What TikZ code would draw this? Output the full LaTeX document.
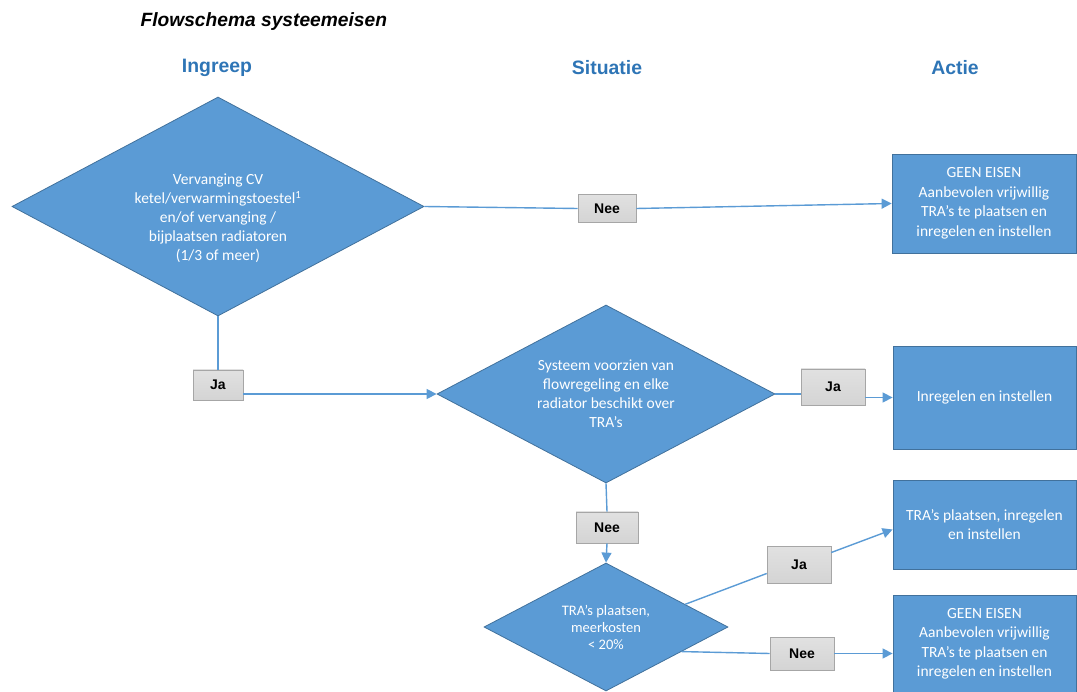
\documentclass[tikz,border=0pt]{standalone}
\usepackage{fontspec}
\setmainfont{Carlito}
\newfontfamily\arialfont{Liberation Sans}
\usepackage{xcolor}
\usepackage{tikz}
\usetikzlibrary{shapes.geometric, arrows.meta, positioning, calc}
\definecolor{vlakblauw}{HTML}{5B9BD5}
\definecolor{randblauw}{HTML}{41719C}
\definecolor{kopblauw}{HTML}{2E75B6}
\definecolor{knopgrijs}{HTML}{D4D4D4}
\definecolor{knoprand}{HTML}{A6A6A6}

\begin{document}
\begin{tikzpicture}[
    x=1pt, y=-1pt,
    vraag/.style={diamond, draw=randblauw, line width=0.8pt, fill=vlakblauw, text=white, inner sep=0pt, shape aspect=1.9, align=center, font=\fontsize{15.5}{19}\selectfont},
    actie/.style={rectangle, draw=randblauw, line width=0.8pt, fill=vlakblauw, text=white, inner sep=0pt, align=center, font=\fontsize{15.5}{19.5}\selectfont},
    knop/.style={rectangle, draw=knoprand, line width=0.6pt, top color=knopgrijs!70!white, bottom color=knopgrijs, inner sep=0pt, font=\arialfont\bfseries\fontsize{14}{16}\selectfont},
    kop/.style={text=kopblauw, font=\arialfont\bfseries\fontsize{19.4}{22}\selectfont},
    lijn/.style={draw=vlakblauw, line width=1.4pt},
    pijl/.style={lijn, -{Triangle[length=10pt, width=10pt]}},
]
    \useasboundingbox (0,0) rectangle (1077,692);

    % Titels
    \node[anchor=west, font=\arialfont\bfseries\itshape\fontsize{19.2}{22}\selectfont] (titel) at (137,22) {Flowschema systeemeisen};
    \node[kop] (kopIngreep) at (217,68) {Ingreep};
    \node[kop] (kopSituatie) at (607,68) {Situatie};
    \node[kop] (kopActie) at (955,68) {Actie};

    % Vragen
    \node[vraag, minimum width=412pt, minimum height=219pt] (ingreep) at (218,206.5)
        {\rule{0pt}{34pt}Vervanging CV\\ketel/verwarmingstoestel\textsuperscript{1}\\en/of vervanging /\\bijplaatsen radiatoren\\(1/3 of meer)};
    \node[vraag, minimum width=338pt, minimum height=178pt] (systeem) at (606,394)
        {Systeem voorzien van\\flowregeling en elke\\radiator beschikt over\\TRA’s};
    \node[vraag, minimum width=244pt, minimum height=128pt, font=\fontsize{14.5}{17}\selectfont] (meerkosten) at (606,627)
        {TRA’s plaatsen,\\meerkosten\\< 20\%};

    % Acties
    \node[actie, minimum width=184pt, minimum height=99pt] (geenEisen1) at (984,203.5)
        {GEEN EISEN\\Aanbevolen vrijwillig\\TRA’s te plaatsen en\\inregelen en instellen};
    \node[actie, minimum width=183pt, minimum height=103pt] (inregelen) at (984.5,397.5)
        {Inregelen en instellen};
    \node[actie, minimum width=183pt, minimum height=89pt] (plaatsen) at (984.5,524.5)
        {TRA’s plaatsen, inregelen\\en instellen};
    \node[actie, minimum width=183pt, minimum height=98pt] (geenEisen2) at (984.5,644)
        {GEEN EISEN\\Aanbevolen vrijwillig\\TRA’s te plaatsen en\\inregelen en instellen};

    % Antwoorden
    \node[knop, minimum width=58pt, minimum height=28pt] (nee1) at (607,208.5) {Nee};
    \node[knop, minimum width=50pt, minimum height=30pt] (ja1) at (218,385) {Ja};
    \node[knop, minimum width=64pt, minimum height=36pt] (ja2) at (833,387) {Ja};
    \node[knop, minimum width=62pt, minimum height=31pt] (nee2) at (607,527.5) {Nee};
    \node[knop, minimum width=64pt, minimum height=37pt] (ja3) at (799,564.5) {Ja};
    \node[knop, minimum width=64pt, minimum height=33pt] (nee3) at (802,653.5) {Nee};

    % Verbindingen
    \draw[lijn] (ingreep.east) -- (nee1.west);
    \draw[pijl] (nee1.east) -- (geenEisen1.west);
    \draw[lijn] (ingreep.south) -- (ja1.north);
    \draw[pijl] (ja1.east |- systeem.west) -- (systeem.west);
    \draw[lijn] (systeem.east) -- (ja2.west |- systeem.east);
    \draw[pijl] (ja2.east |- inregelen.west) -- (inregelen.west);
    \draw[lijn] (systeem.south) -- (nee2.north);
    \draw[pijl] (nee2.south) -- (meerkosten.north);
    \draw[lijn] (meerkosten.16) -- ([yshift=-9pt]ja3.west);
    \draw[pijl] ([yshift=12pt]ja3.east) -- ([yshift=-5pt]plaatsen.west);
    \draw[lijn] (meerkosten.-18) -- (nee3.west);
    \draw[pijl] (nee3.east) -- (nee3.east -| geenEisen2.west);
\end{tikzpicture}
\end{document}
